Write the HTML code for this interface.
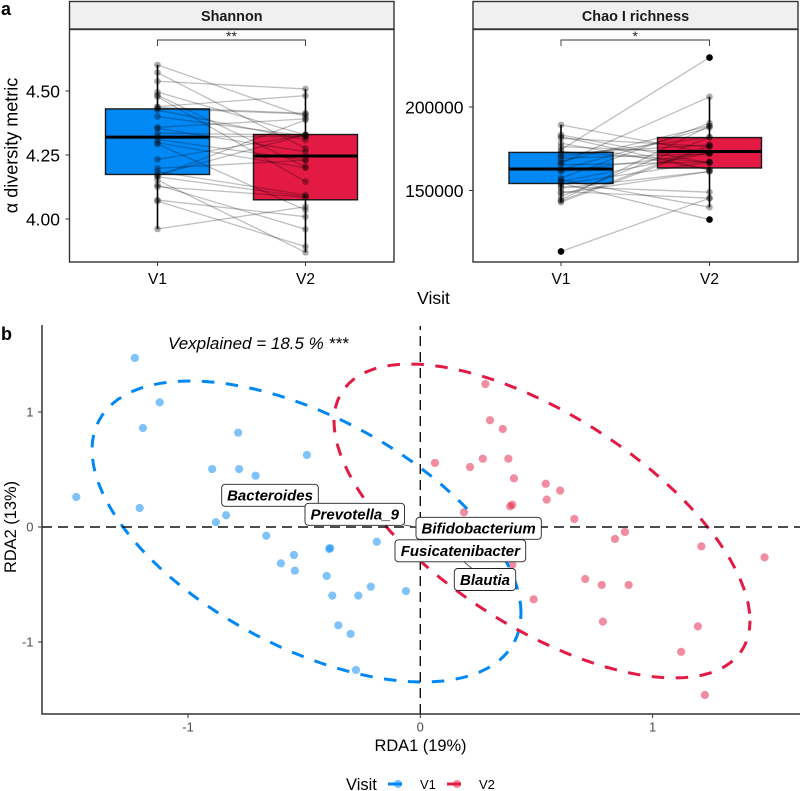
<!DOCTYPE html>
<html lang="en">
<head>
<meta charset="utf-8">
<title>Alpha diversity and RDA ordination</title>
<style>
html,body{margin:0;padding:0;background:#fff;}
#chart{display:block;width:800px;height:791px;font-family:"Liberation Sans",sans-serif;}
</style>
</head>
<body>
<svg id="chart" xmlns="http://www.w3.org/2000/svg" width="800" height="791" viewBox="0 0 800 791">
  <rect x="0" y="0" width="800" height="791" fill="#fff"/>
  <text x="1" y="15" font-size="18" font-weight="bold" fill="#000">a</text>
  <text x="1" y="340" font-size="18" font-weight="bold" fill="#000">b</text>

  <g id="shannon"></g>
  <g id="chao"></g>

  <text transform="translate(17.5,145.5) rotate(-90)" text-anchor="middle" font-size="18" fill="#000">α diversity metric</text>
  <text x="433.5" y="304" text-anchor="middle" font-size="17.5" fill="#000">Visit</text>

  <g id="rda"></g>

  <text x="168" y="349" font-size="17" font-style="italic" fill="#000">Vexplained = 18.5 % ***</text>
  <text transform="translate(16,527) rotate(-90)" text-anchor="middle" font-size="16.4" fill="#000">RDA2 (13%)</text>
  <text x="420.5" y="751" text-anchor="middle" font-size="16.4" fill="#000">RDA1 (19%)</text>

  <g>
    <text x="346" y="790" font-size="16.5" fill="#000">Visit</text>
    <line x1="388" x2="402" y1="784" y2="784" stroke="#0088f5" stroke-width="3"/>
    <circle cx="398" cy="784" r="4.1" fill="#0088f5" fill-opacity="0.5"/>
    <text x="420" y="789" font-size="13" fill="#000">V1</text>
    <line x1="447" x2="461" y1="784" y2="784" stroke="#e31a43" stroke-width="3"/>
    <circle cx="457" cy="784" r="4.1" fill="#e31a43" fill-opacity="0.5"/>
    <text x="479" y="789" font-size="13" fill="#000">V2</text>
  </g>
</svg>

<script>
/* ---------- data: Shannon ---------- */
var visitCategories = ['V1', 'V2'];
var shannonTicks = [4.0, 4.25, 4.5];
var shannonTickLabels = ['4.00', '4.25', '4.50'];
var shannonV1 = [4.602,4.572,4.538,4.496,4.484,4.478,4.439,4.436,4.432,4.426,4.400,4.358,4.354,4.335,4.322,4.311,4.298,4.293,4.233,4.198,4.185,4.172,4.168,4.165,4.152,4.133,4.126,4.074,4.070,3.961];
var shannonV2 = [4.400,4.276,4.508,4.328,4.204,4.146,4.482,4.413,4.410,4.309,4.324,4.391,4.263,4.328,4.322,4.230,4.200,4.035,4.328,4.230,4.094,4.330,4.387,4.087,3.870,3.960,4.085,4.009,3.892,4.048];
var shannonBoxV1 = [3.961, 4.174, 4.320, 4.430, 4.602];
var shannonBoxV2 = [3.870, 4.075, 4.246, 4.330, 4.508];

/* ---------- data: Chao I ---------- */
var chaoTicks = [150000, 200000];
var chaoTickLabels = ['150000', '200000'];
var chaoV1 = [189300,183300,182300,181300,178300,176300,174400,173400,172000,170400,169400,167400,166400,165400,162400,161400,157400,156400,155400,154400,153800,152400,151400,149400,148400,146400,144400,143800,143000,113500];
var chaoV2 = [172400,166400,162400,176300,162400,172400,229600,167000,177300,181900,172000,188700,206100,167000,187700,172400,190300,140000,172400,132600,167000,149000,161400,145400,161400,181900,188700,177300,176300,145400];
var chaoBoxV1 = [143000, 154200, 162900, 172800, 189300];
var chaoBoxV2 = [140000, 163500, 173350, 181700, 206100];
var chaoOutliersV1 = [113500];
var chaoOutliersV2 = [229600, 132600];

/* ---------- data: RDA ordination ---------- */
var rdaTicks = [-1, 0, 1];
var rdaTickLabels = ['-1', '0', '1'];
var rdaV1X = [-1.229,-1.122,-1.194,-0.784,-0.488,-0.896,-0.780,-0.709,-1.481,-1.208,-0.836,-0.880,-0.663,-0.544,-0.187,-0.392,-0.388,-0.600,-0.540,-0.403,-0.379,-0.267,-0.213,-0.062,-0.353,-0.300,-0.277];
var rdaV1Y = [1.470,1.084,0.861,0.820,0.626,0.504,0.504,0.446,0.261,0.165,0.102,0.041,-0.076,-0.243,-0.128,-0.191,-0.183,-0.316,-0.380,-0.426,-0.597,-0.597,-0.519,-0.557,-0.855,-0.930,-1.243];
var rdaV2X = [0.280,0.300,0.355,0.063,0.214,0.269,0.379,0.403,0.540,0.602,0.544,0.396,0.387,0.188,0.663,0.881,0.838,1.210,1.482,0.396,0.488,0.710,0.781,0.897,0.786,1.195,1.123,1.225];
var rdaV2Y = [1.243,0.928,0.852,0.557,0.522,0.594,0.594,0.423,0.376,0.316,0.238,0.194,0.180,0.128,0.070,-0.043,-0.104,-0.168,-0.264,-0.328,-0.629,-0.452,-0.504,-0.504,-0.823,-0.864,-1.086,-1.461];
var ellipseV1 = [-0.4898, -0.0391, 0.9234, 1.3087, 0.543];
var ellipseV2 = [0.5239, 0.0522, 0.8954, 1.365, 0.635];
var taxaNames = ['Bacteroides', 'Prevotella_9', 'Bifidobacterium', 'Fusicatenibacter', 'Blautia'];

/* ---------- helpers ---------- */
var NS = 'http://www.w3.org/2000/svg';
var BLUE = '#0088f5', RED = '#e31a43';

function mk(parent, tag, attrs, text) {
  var el = document.createElementNS(NS, tag);
  for (var k in attrs) el.setAttribute(k, attrs[k]);
  if (text !== undefined) el.textContent = text;
  parent.appendChild(el);
  return el;
}
function linear(d0, d1, r0, r1) {
  return function (v) { return r0 + (v - d0) * (r1 - r0) / (d1 - d0); };
}

/* ---------- paired box panels ---------- */
function drawPanel(root, cfg) {
  var x = linear(0, 1, cfg.xV1, cfg.xV2);
  var y = cfg.y;
  var colors = [BLUE, RED];
  var L = cfg.left, R = cfg.right, halfBox = 52;

  var strip = mk(root, 'rect', {x: L, y: 1.5, width: R - L, height: 27.5, fill: '#f0f0f0', stroke: '#333', 'stroke-width': 1.4});
  
  
  var stripText = mk(root, 'text', {x: (L + R) / 2, y: 21, 'text-anchor': 'middle', 'font-size': 14.4, 'font-weight': 'bold', fill: '#1a1a1a'}, cfg.title);
  
  

  var boxes = [cfg.boxV1, cfg.boxV2];
  boxes.forEach(function (b, i) {
    var cx = x(i);
    var whisker = mk(root, 'line', {x1: cx, x2: cx, y1: y(b[0]), y2: y(b[4]), stroke: '#000', 'stroke-width': 1.6});
    
    
    var box = mk(root, 'rect', {x: cx - halfBox, y: y(b[3]), width: halfBox * 2, height: y(b[1]) - y(b[3]), fill: colors[i], stroke: '#1a1a1a', 'stroke-width': 1.4});
    
    
    var med = mk(root, 'line', {x1: cx - halfBox, x2: cx + halfBox, y1: y(b[2]), y2: y(b[2]), stroke: '#000', 'stroke-width': 3});
    
    
  });

  cfg.v1.forEach(function (v, i) {
    var pair = mk(root, 'line', {x1: x(0), x2: x(1), y1: y(v), y2: y(cfg.v2[i]), stroke: '#000', 'stroke-opacity': 0.25, 'stroke-width': 1.3});
    
    
  });
  [cfg.v1, cfg.v2].forEach(function (vals, s) {
    vals.forEach(function (v) {
      var pt = mk(root, 'circle', {cx: x(s), cy: y(v), r: 3.3, fill: '#000', 'fill-opacity': 0.33});
      
      
    });
  });
  [cfg.outV1, cfg.outV2].forEach(function (vals, s) {
    vals.forEach(function (v) {
      var o = mk(root, 'circle', {cx: x(s), cy: y(v), r: 3.3, fill: '#000'});
      
      
    });
  });

  var border = mk(root, 'rect', {x: L, y: 29.5, width: R - L, height: 232.5, fill: 'none', stroke: '#333', 'stroke-width': 1.4});
  
  

  var bracket = mk(root, 'path', {d: 'M' + x(0) + ' 46V40H' + x(1) + 'V46', fill: 'none', stroke: '#333', 'stroke-width': 0.9});
  
  
  var stars = mk(root, 'text', {x: (x(0) + x(1)) / 2, y: 41, 'text-anchor': 'middle', 'font-size': 14, fill: '#222'}, cfg.stars);
  
  

  cfg.ticks.forEach(function (t, i) {
    var tick = mk(root, 'line', {x1: L - 4, x2: L, y1: y(t), y2: y(t), stroke: '#333', 'stroke-width': 1});
    
    
    var lab = mk(root, 'text', {x: L - 9.5, y: y(t) + 6.3, 'text-anchor': 'end', 'font-size': 17.5, fill: '#000'}, cfg.tickLabels[i]);
    
    
  });
  visitCategories.forEach(function (c, i) {
    var tick = mk(root, 'line', {x1: x(i), x2: x(i), y1: 262, y2: 266, stroke: '#333', 'stroke-width': 1});
    
    
    var lab = mk(root, 'text', {x: x(i), y: 284, 'text-anchor': 'middle', 'font-size': 15.5, fill: '#000'}, c);
    
    
  });
}

drawPanel(document.getElementById('shannon'), {
  title: 'Shannon', stars: '**', left: 69.5, right: 394, xV1: 157.5, xV2: 305.5,
  y: linear(4, 4.5, 219, 91), ticks: shannonTicks, tickLabels: shannonTickLabels,
  v1: shannonV1, v2: shannonV2, boxV1: shannonBoxV1, boxV2: shannonBoxV2, outV1: [], outV2: []
});
drawPanel(document.getElementById('chao'), {
  title: 'Chao I richness', stars: '*', left: 473, right: 798, xV1: 561, xV2: 709.5,
  y: linear(150000, 200000, 190.5, 107), ticks: chaoTicks, tickLabels: chaoTickLabels,
  v1: chaoV1, v2: chaoV2, boxV1: chaoBoxV1, boxV2: chaoBoxV2, outV1: chaoOutliersV1, outV2: chaoOutliersV2
});

/* ---------- RDA panel ---------- */
(function () {
  var root = document.getElementById('rda');
  var X = linear(0, 1, 420.3, 652.6);
  var Y = linear(0, 1, 527, 412);

  function ellipsePath(e) {
    var d = '', phase = Math.acos(e[4]);
    for (var i = 0; i <= 100; i++) {
      var t = i / 100 * 2 * Math.PI;
      d += (i ? 'L' : 'M') + X(e[0] + e[2] * Math.cos(t)).toFixed(2) + ' ' + Y(e[1] - e[3] * Math.cos(t + phase)).toFixed(2);
    }
    return d;
  }

  rdaV1X.forEach(function (v, i) {
    var p = mk(root, 'circle', {cx: X(v), cy: Y(rdaV1Y[i]), r: 4.1, fill: BLUE, 'fill-opacity': 0.5});
    
    
  });
  rdaV2X.forEach(function (v, i) {
    var p = mk(root, 'circle', {cx: X(v), cy: Y(rdaV2Y[i]), r: 4.1, fill: RED, 'fill-opacity': 0.5});
    
    
  });

  var e1 = mk(root, 'path', {d: ellipsePath(ellipseV1), fill: 'none', stroke: BLUE, 'stroke-width': 3, 'stroke-dasharray': '12.5 11.5'});
  
  
  var e2 = mk(root, 'path', {d: ellipsePath(ellipseV2), fill: 'none', stroke: RED, 'stroke-width': 3, 'stroke-dasharray': '12.5 11.5', 'stroke-dashoffset': 17});
  
  

  var h0 = mk(root, 'line', {x1: 42, x2: 800, y1: Y(0), y2: Y(0), stroke: '#111', 'stroke-width': 1.4, 'stroke-dasharray': '10 6'});
  
  
  var v0 = mk(root, 'line', {x1: X(0), x2: X(0), y1: 714, y2: 326, stroke: '#111', 'stroke-width': 1.4, 'stroke-dasharray': '10 6'});
  
  

  var ax = mk(root, 'path', {d: 'M42 325V714H800', fill: 'none', stroke: '#333', 'stroke-width': 1.5});
  
  

  rdaTicks.forEach(function (t, i) {
    var tx = mk(root, 'line', {x1: X(t), x2: X(t), y1: 714, y2: 718, stroke: '#333', 'stroke-width': 1});
    
    
    var lx = mk(root, 'text', {x: X(t), y: 731.5, 'text-anchor': 'middle', 'font-size': 13, fill: '#4d4d4d'}, rdaTickLabels[i]);
    
    
    var ty = mk(root, 'line', {x1: 38, x2: 42, y1: Y(t), y2: Y(t), stroke: '#333', 'stroke-width': 1});
    
    
    var ly = mk(root, 'text', {x: 33.5, y: Y(t) + 4.6, 'text-anchor': 'end', 'font-size': 13, fill: '#4d4d4d'}, rdaTickLabels[i]);
    
    
  });

  /* taxon label layout (not data): box left, top, width */
  var labelBoxes = [[221.7, 484.3, 96.6], [305, 503.3, 99.5], [416, 517.3, 125.3], [395, 539.8, 130.7], [454.3, 568.5, 61.4]];
  var connectors = ['M404 525L416 527', 'M463 561L472 568.5'];
  connectors.forEach(function (d) {
    var c = mk(root, 'path', {d: d, fill: 'none', stroke: '#555', 'stroke-width': 0.9});
    
    
  });
  taxaNames.forEach(function (name, i) {
    var b = labelBoxes[i];
    var r = mk(root, 'rect', {x: b[0], y: b[1], width: b[2], height: 22, rx: 3.5, ry: 3.5, fill: '#fff', stroke: '#222', 'stroke-width': 0.9});
    
    
    var t = mk(root, 'text', {x: b[0] + b[2] / 2, y: b[1] + 16.3, 'text-anchor': 'middle', 'font-size': 15, 'font-weight': 'bold', 'font-style': 'italic', fill: '#000'}, name);
    
    
  });
})();
</script>
</body>
</html>
